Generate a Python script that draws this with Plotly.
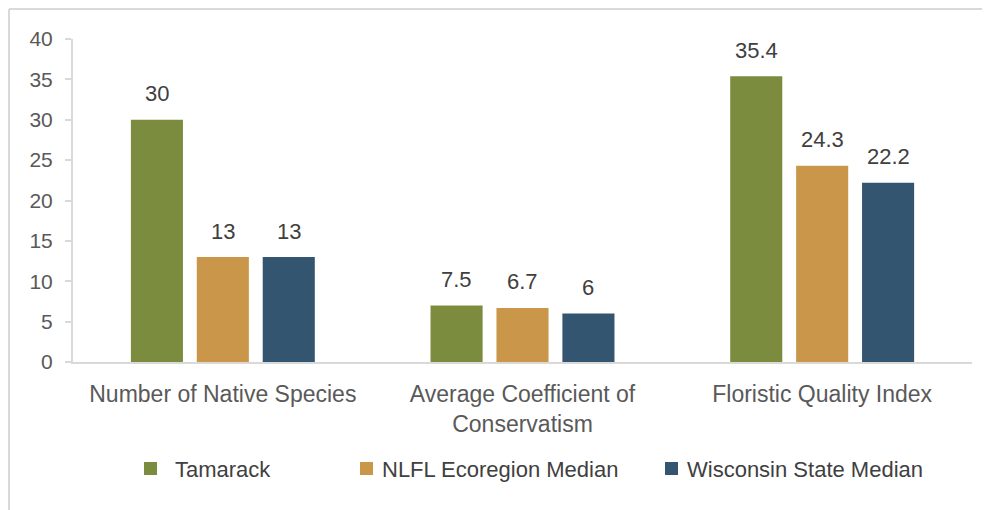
import plotly.graph_objects as go

categories = ["Number of Native Species", "Average Coefficient of<br>Conservatism", "Floristic Quality Index"]
series_names = ["Tamarack", "NLFL Ecoregion Median", "Wisconsin State Median"]
tamarack = [30, 7.0, 35.4]
nlfl = [13, 6.7, 24.3]
wisconsin = [13, 6.0, 22.2]
tamarack_labels = ["30", "7.5", "35.4"]
nlfl_labels = ["13", "6.7", "24.3"]
wisconsin_labels = ["13", "6", "22.2"]
y_ticks = [0, 5, 10, 15, 20, 25, 30, 35, 40]

colors = ["#7b8c3e", "#c9964a", "#345570"]
values = [tamarack, nlfl, wisconsin]
labels = [tamarack_labels, nlfl_labels, wisconsin_labels]

FONT = "Liberation Sans, Arial, sans-serif"
bargap = 0.34
bargroupgap = 0.21

# page offset (browser body margin)
OFF = 8
FW, FH = 990 - OFF, 510 - OFF
L, W, T, H = 73 - OFF, 899, 39 - OFF, 323

fig = go.Figure()
for name, vals, col in zip(series_names, values, colors):
    fig.add_trace(go.Bar(x=list(range(len(categories))), y=vals, name=name,
                         marker=dict(color=col, line=dict(width=0)), showlegend=False))

# data labels
slot = (1 - bargap) / 3
annotations = []
for k, (vals, labs) in enumerate(zip(values, labels)):
    for i, (v, t) in enumerate(zip(vals, labs)):
        annotations.append(dict(x=i + (k - 1) * slot, y=v, xref="x", yref="y", text=t,
                                showarrow=False, yshift=26, yanchor="middle",
                                font=dict(family=FONT, size=22, color="#404040")))

def px(xpage):
    return (xpage - OFF - L) / W
def py(ypage):
    return (T + H - (ypage - OFF)) / H

# custom legend
legend_sq = [144, 360, 665]
legend_tx = [173, 380, 685]
shapes = []
for name, col, sx, tx in zip(series_names, colors, legend_sq, legend_tx):
    shapes.append(dict(type="rect", xref="paper", yref="paper", x0=px(sx), x1=px(sx + 13),
                       y0=py(462 + 13), y1=py(462), fillcolor=col, line=dict(width=0)))
    annotations.append(dict(xref="paper", yref="paper", x=px(tx), y=py(469), text=name,
                            xanchor="left", yanchor="middle", showarrow=False,
                            font=dict(family=FONT, size=22, color="#404040")))

# outer frame
shapes.append(dict(type="line", xref="paper", yref="paper", x0=px(9), x1=px(1000), y0=py(9), y1=py(9),
                   line=dict(color="#d9d9d9", width=2)))
shapes.append(dict(type="line", xref="paper", yref="paper", x0=px(9), x1=px(9), y0=py(9), y1=py(520),
                   line=dict(color="#d9d9d9", width=2)))

fig.update_layout(
    width=FW, height=FH,
    margin=dict(l=L, r=FW - L - W, t=T, b=FH - T - H),
    paper_bgcolor="white", plot_bgcolor="white",
    barmode="group", bargap=bargap, bargroupgap=bargroupgap,
    font=dict(family=FONT, color="#595959"),
    annotations=annotations, shapes=shapes,
    xaxis=dict(tickmode="array", tickvals=list(range(len(categories))), ticktext=categories,
               range=[-0.5, 2.5], showline=True, linecolor="#d9d9d9", linewidth=2,
               ticks="", showgrid=False, zeroline=False, ticklabelstandoff=10,
               tickfont=dict(family=FONT, size=23, color="#595959")),
    yaxis=dict(range=[0, 40], tickvals=y_ticks, showline=True, linecolor="#d9d9d9", linewidth=2,
               ticks="outside", ticklen=6, tickcolor="#d9d9d9", tickwidth=2,
               showgrid=False, zeroline=False, ticklabelstandoff=8,
               tickfont=dict(family=FONT, size=21, color="#595959")),
)

fig.write_html("out.html")
